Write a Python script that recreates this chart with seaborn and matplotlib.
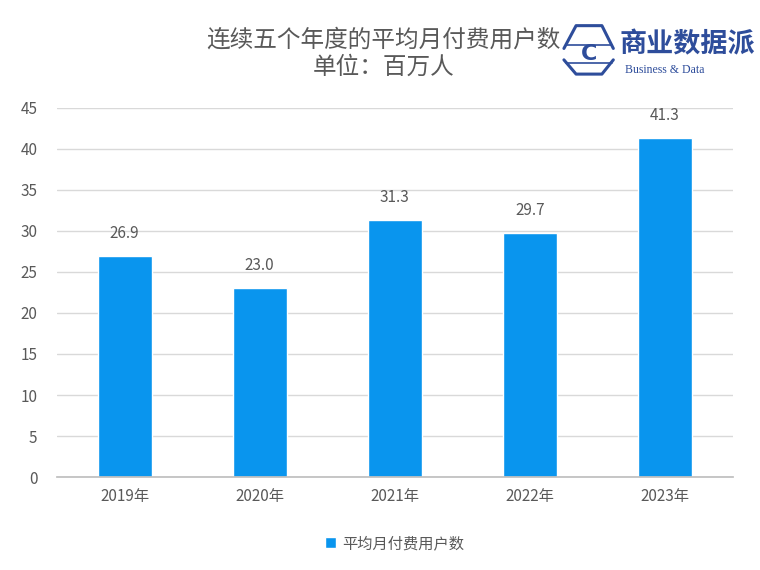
import pandas as pd
import matplotlib.pyplot as plt
import seaborn as sns

# === Data ===
years = ["2019年", "2020年", "2021年", "2022年", "2023年"]
users = [26.9, 23.0, 31.3, 29.7, 41.3]
series_name = "平均月付费用户数"

df = pd.DataFrame({"year": years, "users": users, "series": series_name})

sns.set_theme(style="white")
plt.rcParams['font.family'] = ['Noto Sans CJK SC', 'DejaVu Sans']

bar_color = "#0995EE"
text_gray = "#595959"

fig = plt.figure(figsize=(7.6, 5.7), dpi=100)
ax = fig.add_axes([0.075, 0.163, 0.889, 0.648])

sns.barplot(data=df, x="year", y="users", hue="series", palette=[bar_color],
            width=0.4, saturation=1, ax=ax, legend=True)

ax.set_ylim(0, 45)
ax.set_yticks(range(0, 46, 5))
ax.yaxis.grid(True, color="#D9D9D9", linewidth=1)
ax.set_axisbelow(True)
ax.set_xlabel("")
ax.set_ylabel("")
for s in ["top", "right", "left"]:
    ax.spines[s].set_visible(False)
ax.spines["bottom"].set_color("#BFBFBF")
ax.tick_params(axis="both", colors=text_gray, labelsize=11, length=0)
ax.tick_params(axis="x", pad=8)
ax.tick_params(axis="y", pad=14)

# value labels
for c in ax.containers:
    ax.bar_label(c, fmt="%.1f", padding=10, color=text_gray, fontsize=11)

# legend at bottom
leg = ax.legend(loc="upper center", bbox_to_anchor=(0.5, -0.12), frameon=False,
                fontsize=11, handlelength=0.7, handleheight=0.7, handletextpad=0.4)
for t in leg.get_texts():
    t.set_color(text_gray)

# title
fig.text(0.505, 0.930, "连续五个年度的平均月付费用户数", ha="center", va="center",
         fontsize=17, color=text_gray, fontweight="light")
fig.text(0.505, 0.882, "单位：百万人", ha="center", va="center",
         fontsize=17, color=text_gray, fontweight="light")

# logo (right top)
navy = "#2E4D9B"
fig.add_artist(plt.Line2D([0.742, 0.758, 0.792, 0.807], [0.915, 0.955, 0.955, 0.915],
                          color=navy, lw=2.2, transform=fig.transFigure))
fig.add_artist(plt.Line2D([0.742, 0.758, 0.792, 0.807], [0.895, 0.870, 0.870, 0.895],
                          color=navy, lw=2.2, transform=fig.transFigure))
fig.add_artist(plt.Line2D([0.745, 0.805], [0.921, 0.921], color=navy, lw=1.2,
                          transform=fig.transFigure))
fig.add_artist(plt.Line2D([0.745, 0.805], [0.889, 0.889], color=navy, lw=1.2,
                          transform=fig.transFigure))
fig.text(0.775, 0.905, "C", ha="center", va="center", fontsize=16, color=navy,
         fontweight="bold", family=["DejaVu Sans"])
fig.text(0.815, 0.922, "商业数据派", ha="left", va="center", fontsize=19.5,
         color=navy, fontweight="bold")
fig.text(0.822, 0.877, "Business & Data", ha="left", va="center", fontsize=8.5,
         color=navy, family=["Liberation Serif", "DejaVu Serif"])

fig.savefig("out.png", dpi=100)
